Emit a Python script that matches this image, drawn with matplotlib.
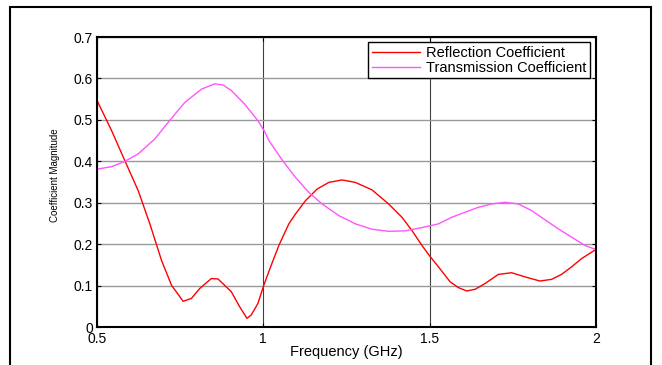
import matplotlib
matplotlib.use("Agg")
import matplotlib.pyplot as plt
from matplotlib.patches import Rectangle

plt.rcParams['font.family'] = ['Liberation Sans', 'DejaVu Sans']

# reflection coefficient (red)
refl_f = [0.5, 0.544, 0.584, 0.624, 0.659, 0.694, 0.724, 0.759, 0.784, 0.809, 0.844, 0.864,
          0.904, 0.929, 0.951, 0.964, 0.984, 1.0, 1.022, 1.047, 1.077, 1.097, 1.127, 1.162,
          1.197, 1.237, 1.277, 1.327, 1.377, 1.417, 1.447, 1.477, 1.500, 1.527, 1.562, 1.587,
          1.612, 1.637, 1.667, 1.707, 1.747, 1.787, 1.832, 1.867, 1.897, 1.927, 1.957, 2.0]
refl_v = [0.547, 0.474, 0.401, 0.329, 0.249, 0.161, 0.101, 0.062, 0.069, 0.093, 0.117, 0.116,
          0.085, 0.049, 0.021, 0.029, 0.057, 0.097, 0.145, 0.197, 0.249, 0.273, 0.305, 0.333,
          0.349, 0.355, 0.349, 0.331, 0.297, 0.265, 0.233, 0.197, 0.172, 0.145, 0.109, 0.095,
          0.087, 0.091, 0.105, 0.127, 0.131, 0.121, 0.111, 0.115, 0.127, 0.145, 0.165, 0.187]

# transmission coefficient (magenta)
trans_f = [0.5, 0.544, 0.584, 0.624, 0.674, 0.714, 0.764, 0.814, 0.854, 0.879, 0.904, 0.944,
           0.984, 1.004, 1.017, 1.057, 1.097, 1.137, 1.177, 1.227, 1.277, 1.327, 1.377, 1.427,
           1.477, 1.527, 1.567, 1.607, 1.647, 1.687, 1.727, 1.767, 1.807, 1.847, 1.887, 1.927,
           1.967, 2.0]
trans_v = [0.381, 0.387, 0.400, 0.418, 0.454, 0.494, 0.542, 0.574, 0.587, 0.584, 0.571, 0.538,
           0.498, 0.472, 0.450, 0.403, 0.361, 0.325, 0.297, 0.269, 0.249, 0.236, 0.231, 0.232,
           0.240, 0.249, 0.265, 0.277, 0.289, 0.297, 0.301, 0.297, 0.281, 0.259, 0.237, 0.217,
           0.197, 0.187]

xticks = [0.5, 1, 1.5, 2]
xtick_labels = ['0.5', '1', '1.5', '2']
yticks = [0, 0.1, 0.2, 0.3, 0.4, 0.5, 0.6, 0.7]
ytick_labels = ['0', '0.1', '0.2', '0.3', '0.4', '0.5', '0.6', '0.7']

fig = plt.figure(figsize=(6.62, 3.65), dpi=100)
ax = fig.add_axes([0.1465, 0.1041, 0.7535, 0.7945])

ax.plot(refl_f, refl_v, color='#ff0000', lw=1.0, label='Reflection Coefficient')
ax.plot(trans_f, trans_v, color='#ff55ff', lw=1.0, label='Transmission Coefficient')

ax.set_xlim(0.5, 2)
ax.set_ylim(0, 0.7)
ax.set_xticks(xticks)
ax.set_xticklabels(xtick_labels)
ax.set_yticks(yticks)
ax.set_yticklabels(ytick_labels)
ax.tick_params(direction='in', length=3, width=0.8, top=True, right=True, labelsize=10)
ax.tick_params(axis='x', pad=3.5)
ax.tick_params(axis='y', pad=3)
ax.xaxis.grid(True, color='#404040', lw=0.8)
ax.yaxis.grid(True, color='#999999', lw=1.0)
for s in ax.spines.values():
    s.set_linewidth(1.5)

ax.set_xlabel('Frequency (GHz)', fontsize=10.5)
ax.xaxis.set_label_coords(0.5, -0.063)
ax.set_ylabel('Coefficient Magnitude', fontsize=7)
ax.yaxis.set_label_coords(-0.075, 0.524)

leg = ax.legend(loc='upper right', bbox_to_anchor=(0.989, 0.982), fontsize=10.5, frameon=True,
                fancybox=False, edgecolor='black', framealpha=1, handlelength=3.3,
                handletextpad=0.45, borderpad=0.25, borderaxespad=0, labelspacing=0.05)
leg.get_frame().set_linewidth(1.0)

# outer frame around the figure
fig.patches.append(Rectangle((10 / 662, -0.05), 641 / 662, 1.05 - 7 / 365, transform=fig.transFigure,
                             fill=False, edgecolor='black', lw=1.5))

fig.savefig('out.png', dpi=100)
